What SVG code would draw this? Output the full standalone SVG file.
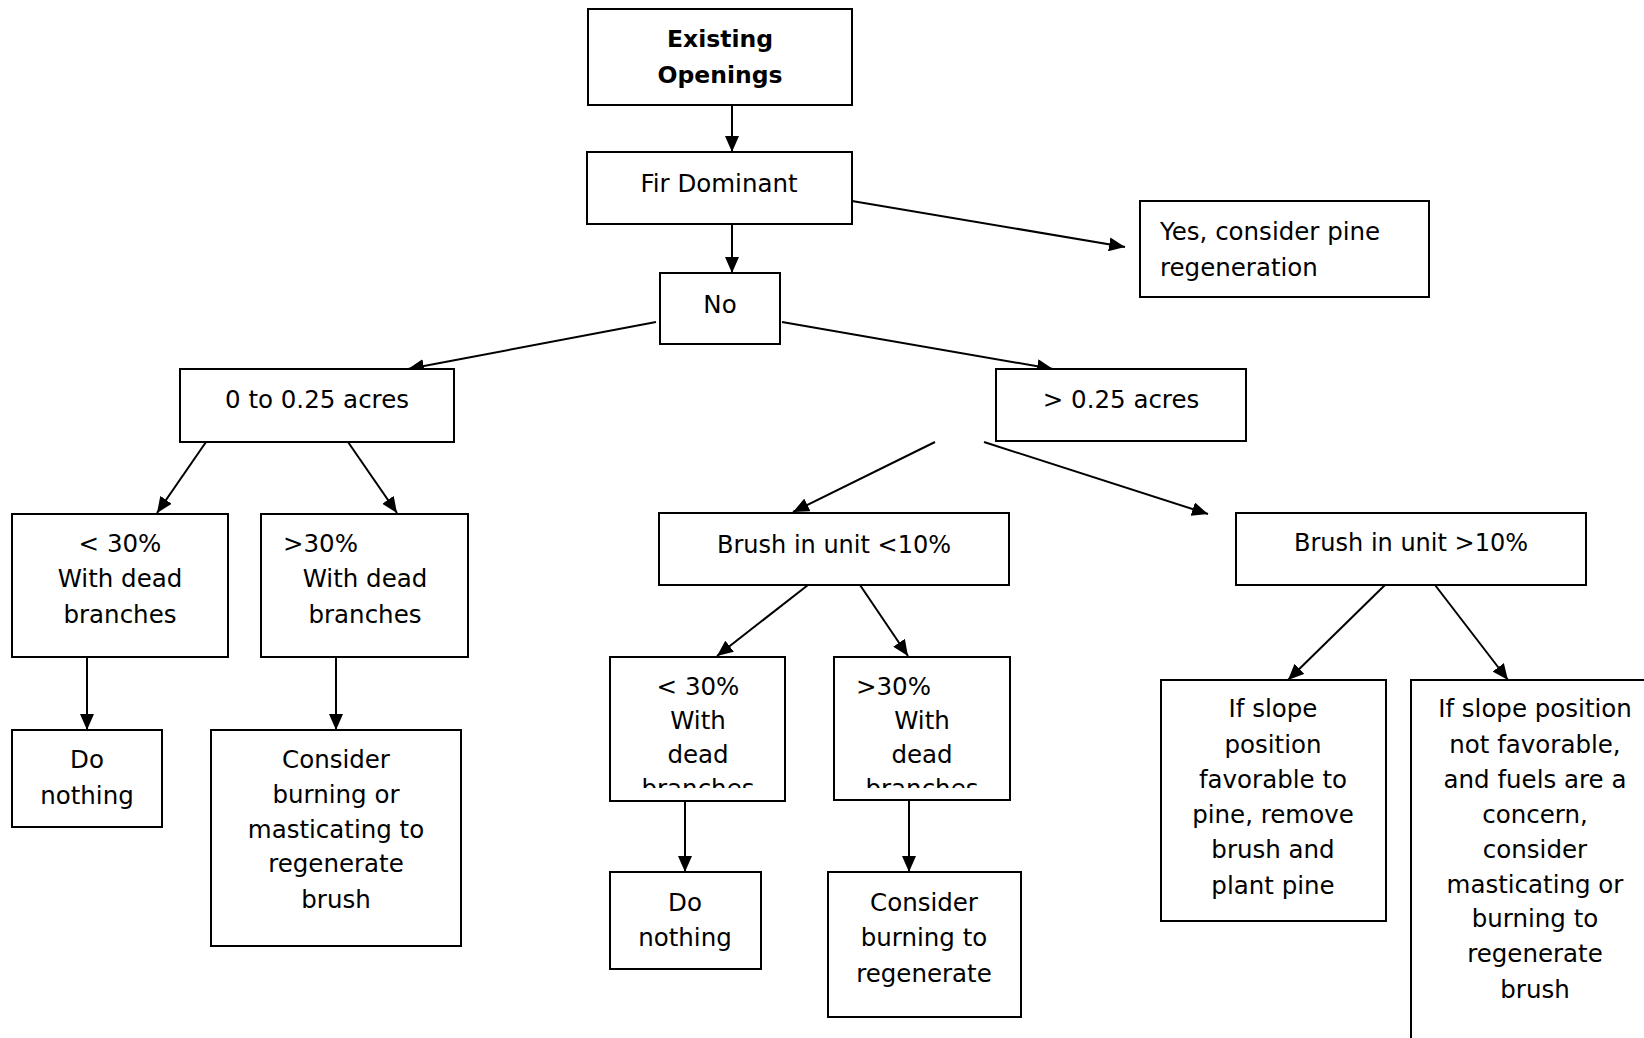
<svg xmlns="http://www.w3.org/2000/svg" width="1644" height="1038" viewBox="0 0 1644 1038">
<style>
.box{fill:#fff;stroke:#000;stroke-width:2}
.t{font-family:"DejaVu Sans","Liberation Sans",sans-serif;font-size:24.5px;fill:#000;text-anchor:middle}
.s{font-size:24px}
.st{text-anchor:start}
.b{font-weight:bold;font-size:23.5px}
.c{fill:none;stroke:#000;stroke-width:2}
</style>
<defs>
<marker id="ah" viewBox="0 0 16 14" refX="16" refY="7" markerWidth="16" markerHeight="14" markerUnits="userSpaceOnUse" orient="auto">
<path d="M0,0 L16,7 L0,14 z" fill="#000"/>
</marker>
<clipPath id="clipA"><rect x="610" y="657" width="175" height="131"/></clipPath>
<clipPath id="clipB"><rect x="834" y="657" width="176" height="131"/></clipPath>
</defs>
<rect width="1644" height="1038" fill="#fff"/>
<g id="connectors">
<line class="c" marker-end="url(#ah)" x1="732" y1="105" x2="732" y2="152"/>
<line class="c" marker-end="url(#ah)" x1="732" y1="224" x2="732" y2="273"/>
<line class="c" marker-end="url(#ah)" x1="852" y1="201" x2="1125" y2="247"/>
<line class="c" marker-end="url(#ah)" x1="656" y1="322" x2="408" y2="369"/>
<line class="c" marker-end="url(#ah)" x1="782" y1="322" x2="1053" y2="369"/>
<line class="c" marker-end="url(#ah)" x1="206" y1="442" x2="157" y2="513"/>
<line class="c" marker-end="url(#ah)" x1="348" y1="442" x2="397" y2="513"/>
<line class="c" marker-end="url(#ah)" x1="87" y1="658" x2="87" y2="730"/>
<line class="c" marker-end="url(#ah)" x1="336" y1="658" x2="336" y2="730"/>
<line class="c" marker-end="url(#ah)" x1="935" y1="442" x2="793" y2="512"/>
<line class="c" marker-end="url(#ah)" x1="984" y1="442" x2="1208" y2="514"/>
<line class="c" marker-end="url(#ah)" x1="808" y1="585" x2="717" y2="656"/>
<line class="c" marker-end="url(#ah)" x1="860" y1="585" x2="908" y2="656"/>
<line class="c" marker-end="url(#ah)" x1="685" y1="801" x2="685" y2="872"/>
<line class="c" marker-end="url(#ah)" x1="909" y1="800" x2="909" y2="872"/>
<line class="c" marker-end="url(#ah)" x1="1385" y1="585" x2="1288" y2="680"/>
<line class="c" marker-end="url(#ah)" x1="1435" y1="585" x2="1508" y2="680"/>
</g>
<g id="existing-openings">
<rect class="box" x="588" y="9" width="264" height="96"/>
<text class="t b" x="720" y="47">Existing</text>
<text class="t b" x="720" y="83">Openings</text>
</g>
<g id="fir-dominant">
<rect class="box" x="587" y="152" width="265" height="72"/>
<text class="t" x="719" y="192">Fir Dominant</text>
</g>
<g id="yes">
<rect class="box" x="1140" y="201" width="289" height="96"/>
<text class="t st" x="1160" y="240">Yes, consider pine</text>
<text class="t st" x="1160" y="276">regeneration</text>
</g>
<g id="no">
<rect class="box" x="660" y="273" width="120" height="71"/>
<text class="t" x="720" y="313">No</text>
</g>
<g id="small-acres">
<rect class="box" x="180" y="369" width="274" height="73"/>
<text class="t" x="317" y="408">0 to 0.25 acres</text>
</g>
<g id="large-acres">
<rect class="box" x="996" y="369" width="250" height="72"/>
<text class="t" x="1121" y="408">&gt; 0.25 acres</text>
</g>
<g id="small-lt30">
<rect class="box" x="12" y="514" width="216" height="143"/>
<text class="t" x="120" y="552">&lt; 30%</text>
<text class="t" x="120" y="587">With dead</text>
<text class="t" x="120" y="623">branches</text>
</g>
<g id="small-gt30">
<rect class="box" x="261" y="514" width="207" height="143"/>
<text class="t st" x="283" y="552">&gt;30%</text>
<text class="t" x="365" y="587">With dead</text>
<text class="t" x="365" y="623">branches</text>
</g>
<g id="small-do-nothing">
<rect class="box" x="12" y="730" width="150" height="97"/>
<text class="t" x="87" y="768">Do</text>
<text class="t" x="87" y="804">nothing</text>
</g>
<g id="small-consider">
<rect class="box" x="211" y="730" width="250" height="216"/>
<text class="t" x="336" y="768">Consider</text>
<text class="t" x="336" y="803">burning or</text>
<text class="t" x="336" y="838">masticating to</text>
<text class="t" x="336" y="872">regenerate</text>
<text class="t" x="336" y="908">brush</text>
</g>
<g id="brush-lt10">
<rect class="box" x="659" y="513" width="350" height="72"/>
<text class="t s" x="834" y="553">Brush in unit &lt;10%</text>
</g>
<g id="brush-gt10">
<rect class="box" x="1236" y="513" width="350" height="72"/>
<text class="t s" x="1411" y="551">Brush in unit &gt;10%</text>
</g>
<g id="mid-lt30">
<rect class="box" x="610" y="657" width="175" height="144"/>
<g clip-path="url(#clipA)">
<text class="t" x="698" y="695">&lt; 30%</text>
<text class="t" x="698" y="729">With</text>
<text class="t" x="698" y="763">dead</text>
<text class="t" x="698" y="797">branches</text>
</g>
</g>
<g id="mid-gt30">
<rect class="box" x="834" y="657" width="176" height="143"/>
<g clip-path="url(#clipB)">
<text class="t st" x="856" y="695">&gt;30%</text>
<text class="t" x="922" y="729">With</text>
<text class="t" x="922" y="763">dead</text>
<text class="t" x="922" y="797">branches</text>
</g>
</g>
<g id="mid-do-nothing">
<rect class="box" x="610" y="872" width="151" height="97"/>
<text class="t" x="685" y="911">Do</text>
<text class="t" x="685" y="946">nothing</text>
</g>
<g id="mid-consider">
<rect class="box" x="828" y="872" width="193" height="145"/>
<text class="t" x="924" y="911">Consider</text>
<text class="t" x="924" y="946">burning to</text>
<text class="t" x="924" y="982">regenerate</text>
</g>
<g id="slope-favorable">
<rect class="box" x="1161" y="680" width="225" height="241"/>
<text class="t" x="1273" y="717">If slope</text>
<text class="t" x="1273" y="753">position</text>
<text class="t" x="1273" y="788">favorable to</text>
<text class="t" x="1273" y="823">pine, remove</text>
<text class="t" x="1273" y="858">brush and</text>
<text class="t" x="1273" y="894">plant pine</text>
</g>
<g id="slope-unfavorable">
<rect class="box" x="1411" y="680" width="260" height="400"/>
<text class="t" x="1535" y="717">If slope position</text>
<text class="t" x="1535" y="753">not favorable,</text>
<text class="t" x="1535" y="788">and fuels are a</text>
<text class="t" x="1535" y="823">concern,</text>
<text class="t" x="1535" y="858">consider</text>
<text class="t" x="1535" y="893">masticating or</text>
<text class="t" x="1535" y="927">burning to</text>
<text class="t" x="1535" y="962">regenerate</text>
<text class="t" x="1535" y="998">brush</text>
</g>
</svg>
